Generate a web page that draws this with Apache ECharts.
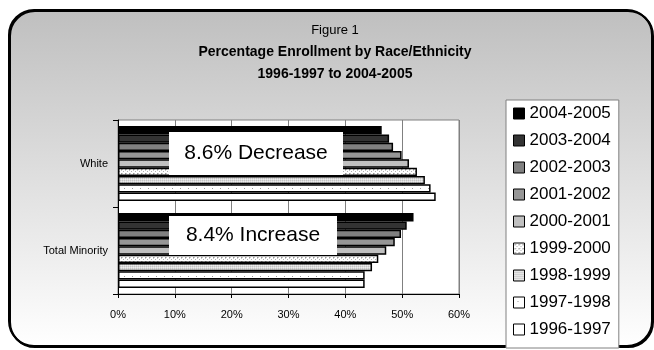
<!DOCTYPE html>
<html>
<head>
<meta charset="utf-8">
<script src="https://cdn.jsdelivr.net/npm/echarts@6/dist/echarts.min.js"></script>
<style>
  html, body { margin: 0; padding: 0; background: #fff; }
  #chart { width: 654px; height: 350px; }
</style>
</head>
<body>
<div id="chart"></div>
<script>
// school years, bottom bar to top bar inside each group
const years = ['1996-1997', '1997-1998', '1998-1999', '1999-2000', '2000-2001',
  '2001-2002', '2002-2003', '2003-2004', '2004-2005']
const categories = ['Total Minority', 'White']
const whiteValues = [55.9, 55.0, 54.0, 52.6, 51.2, 49.9, 48.4, 47.7, 46.4]
const minorityValues = [43.4, 43.4, 44.7, 45.8, 47.2, 48.7, 49.8, 50.8, 52.0]
const xTicks = [0, 10, 20, 30, 40, 50, 60]

const FONT = '"Liberation Sans", Arial, sans-serif'

// little dotted fills like the old excel patterns
function pattern (size, bg, dots) {
  const c = document.createElement('canvas')
  c.width = size
  c.height = size
  const ctx = c.getContext('2d')
  ctx.fillStyle = bg
  ctx.fillRect(0, 0, size, size)
  dots.forEach(function (d) {
    ctx.fillStyle = d[2]
    ctx.fillRect(d[0], d[1], 1, 1)
  })
  return { image: c, repeat: 'repeat' }
}

const fills = [
  '#ffffff',
  pattern(8, '#ffffff', [[4, 4, '#9a9a9a']]),
  pattern(2, '#dcdcdc', [[0, 0, '#c4c4c4'], [1, 1, '#eeeeee']]),
  pattern(4, '#ffffff', [[1, 1, '#9a9a9a'], [2, 1, '#c8c8c8'], [1, 2, '#c8c8c8'], [3, 3, '#b0b0b0']]),
  '#c0c0c0',
  '#969696',
  '#808080',
  '#333333',
  '#000000'
]

const chart = echarts.init(document.getElementById('chart'))

// echarts puts the first series at the top of a horizontal group,
// so newest year goes first
const series = []
for (let i = years.length - 1; i >= 0; i--) {
  series.push({
    name: years[i],
    type: 'bar',
    data: [minorityValues[i], whiteValues[i]],
    barGap: '0%',
    barCategoryGap: '14%',
    itemStyle: {
      color: fills[i],
      borderColor: '#000',
      borderWidth: 1.5
    },
    emphasis: { disabled: true },
    animation: false
  })
}

const option = {
  backgroundColor: '#fff',
  animation: false,
  textStyle: { fontFamily: FONT },
  title: [
    {
      text: 'Figure 1',
      left: 335,
      top: 24,
      textAlign: 'center',
      padding: 0,
      textStyle: { fontSize: 13, fontWeight: 'normal', color: '#000', fontFamily: FONT }
    },
    {
      text: 'Percentage Enrollment by Race/Ethnicity',
      left: 335,
      top: 45,
      textAlign: 'center',
      padding: 0,
      textStyle: { fontSize: 14, fontWeight: 'bold', color: '#000', fontFamily: FONT }
    },
    {
      text: '1996-1997 to 2004-2005',
      left: 335,
      top: 67,
      textAlign: 'center',
      padding: 0,
      textStyle: { fontSize: 14, fontWeight: 'bold', color: '#000', fontFamily: FONT }
    }
  ],
  legend: {
    data: years.slice().reverse(),
    orient: 'vertical',
    left: 506,
    top: 100,
    padding: [5, 8, 10, 7],
    itemGap: 10,
    itemWidth: 11,
    itemHeight: 11,
    icon: 'rect',
    backgroundColor: '#fff',
    borderColor: '#808080',
    borderWidth: 1,
    selectedMode: false,
    itemStyle: { borderColor: '#000', borderWidth: 1 },
    textStyle: { fontSize: 17, lineHeight: 17, color: '#000', fontFamily: FONT, padding: [0, 0, 0, 0] }
  },
  grid: {
    left: 118,
    top: 120,
    right: 195,
    bottom: 56,
    show: true,
    backgroundColor: '#fff',
    borderColor: '#808080',
    borderWidth: 1
  },
  xAxis: {
    type: 'value',
    min: xTicks[0],
    max: xTicks[xTicks.length - 1],
    interval: 10,
    axisLine: { show: true, lineStyle: { color: '#000', width: 1 } },
    axisTick: { show: true, length: 4, lineStyle: { color: '#000' } },
    splitLine: { show: true, lineStyle: { color: '#808080', width: 1 } },
    axisLabel: {
      formatter: '{value}%',
      fontSize: 11,
      color: '#000',
      margin: 15,
      fontFamily: FONT
    }
  },
  yAxis: {
    type: 'category',
    data: categories,
    axisLine: { show: true, lineStyle: { color: '#000', width: 1 } },
    axisTick: { show: true, length: 5, lineStyle: { color: '#000' } },
    axisLabel: { fontSize: 11, color: '#000', margin: 10, fontFamily: FONT }
  },
  graphic: [
    {
      type: 'rect',
      z: -10,
      silent: true,
      shape: { x: 9, y: 10, width: 643, height: 336, r: 25 },
      style: {
        fill: new echarts.graphic.LinearGradient(0, 0, 0, 1, [
          { offset: 0, color: '#bfbfbf' },
          { offset: 1, color: '#ffffff' }
        ]),
        stroke: '#000',
        lineWidth: 2,
        shadowColor: '#000',
        shadowOffsetX: 1,
        shadowOffsetY: 1,
        shadowBlur: 0
      }
    },
    {
      type: 'group',
      z: 100,
      children: [
        {
          type: 'rect',
          z: 100,
          shape: { x: 169, y: 132, width: 174, height: 43 },
          style: { fill: '#fff' }
        },
        {
          type: 'text',
          z: 101,
          x: 256,
          y: 153.5,
          style: {
            text: '8.6% Decrease',
            fill: '#000',
            font: '21px ' + FONT,
            textAlign: 'center',
            textVerticalAlign: 'middle'
          }
        },
        {
          type: 'rect',
          z: 100,
          shape: { x: 169, y: 216, width: 168, height: 39 },
          style: { fill: '#fff' }
        },
        {
          type: 'text',
          z: 101,
          x: 253,
          y: 235.5,
          style: {
            text: '8.4% Increase',
            fill: '#000',
            font: '21px ' + FONT,
            textAlign: 'center',
            textVerticalAlign: 'middle'
          }
        }
      ]
    }
  ],
  series: series
}

chart.setOption(option)
</script>
</body>
</html>
